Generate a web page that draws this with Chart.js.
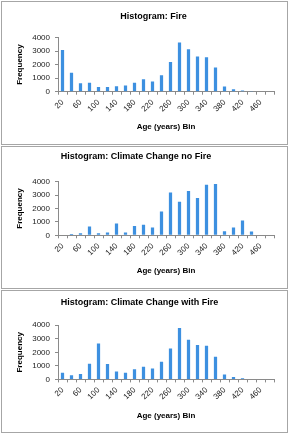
<!DOCTYPE html>
<html>
<head>
<meta charset="utf-8">
<script src="https://cdn.jsdelivr.net/npm/chart.js@4"></script>
<style>
  html, body { margin: 0; padding: 0; background: #fff; }
  body { width: 289px; height: 434px; position: relative; overflow: hidden; }
  .panel { position: absolute; box-sizing: border-box; border: 1px solid #a6a6a6; background: #fff; }
  canvas { position: absolute; }
</style>
</head>
<body>
<div class="panel" style="left:1px;top:1px;width:287px;height:144px;"></div>
<div class="panel" style="left:1px;top:146px;width:287px;height:143px;"></div>
<div class="panel" style="left:1px;top:290px;width:287px;height:143px;"></div>
<canvas id="c1" style="left:2px;top:2px;"></canvas>
<canvas id="c2" style="left:2px;top:147px;"></canvas>
<canvas id="c3" style="left:2px;top:291px;"></canvas>
<script>
// Bins (Age, years)
const bins = [20,40,60,80,100,120,140,160,180,200,220,240,260,280,300,320,340,360,380,400,420,440,460,480];

const titles = ['Histogram: Fire', 'Histogram: Climate Change no Fire', 'Histogram: Climate Change with Fire'];

const fire = [3070,1390,620,660,350,350,400,450,660,920,760,1210,2200,3640,3130,2590,2540,1790,390,180,90,15,0,0];
const ccNoFire = [0,100,150,650,150,200,880,200,700,780,580,1780,3200,2500,3300,2780,3780,3820,300,580,1100,280,0,0];
const ccWithFire = [490,300,400,1150,2650,1130,590,490,740,930,810,1300,2280,3800,2920,2530,2480,1670,370,170,80,0,0,0];

const yTicks = [0,1000,2000,3000,4000];

const seriesList = [fire, ccNoFire, ccWithFire];

// per-panel geometry (canvas coordinates)
const geo = [
  { h: 142, top: 35.5, bottom: 89.7, tx: 151.5, ty: 14.7, xtPad: 12.5 },
  { h: 141, top: 34.7, bottom: 88.3, tx: 134,   ty: 9.9,  xtPad: 12 },
  { h: 141, top: 34.2, bottom: 88.4, tx: 137.5, ty: 11.7, xtPad: 11.3 }
];

const FONT = "'Liberation Sans', Arial, sans-serif";
const AXIS = '#8a8a8a';

const panelTitle = {
  id: 'panelTitle',
  afterDraw(chart, args, opts) {
    const ctx = chart.ctx;
    ctx.save();
    ctx.font = 'bold 9px ' + FONT;
    ctx.fillStyle = '#000';
    ctx.textAlign = 'center';
    ctx.textBaseline = 'middle';
    ctx.fillText(opts.text, opts.x, opts.y);
    ctx.restore();
  }
};

seriesList.forEach((data, i) => {
  const g = geo[i];
  const canvas = document.getElementById('c' + (i + 1));
  canvas.width = 284; canvas.height = g.h;
  canvas.style.width = '284px'; canvas.style.height = g.h + 'px';
  new Chart(canvas, {
    type: 'bar',
    data: {
      labels: bins.map(String),
      datasets: [{
        data: data,
        backgroundColor: '#3d90e0',
        borderWidth: 0,
        barPercentage: 0.36,
        categoryPercentage: 1.0
      }]
    },
    options: {
      responsive: false,
      animation: false,
      devicePixelRatio: 1,
      layout: { padding: { left: 0, right: 12, top: g.top, bottom: 0 } },
      plugins: {
        legend: { display: false },
        tooltip: { enabled: false },
        title: { display: false },
        panelTitle: { text: titles[i], x: g.tx, y: g.ty }
      },
      scales: {
        x: {
          type: 'category',
          grid: { display: true, drawOnChartArea: false, drawTicks: true, tickLength: 3, color: AXIS, offset: true },
          border: { display: true, color: AXIS },
          ticks: {
            autoSkip: false, maxRotation: 45, minRotation: 45, padding: 3,
            color: '#222', font: { family: FONT, size: 8 },
            callback: function(v, idx) { return idx % 2 === 0 ? this.getLabelForValue(v) : ''; }
          },
          title: { display: true, text: 'Age (years) Bin', color: '#000', font: { family: FONT, size: 8, weight: 'bold' }, padding: { top: 0, bottom: g.xtPad } },
          afterFit(scale) { scale.height = g.h - g.bottom; }
        },
        y: {
          min: 0, max: 4000,
          afterBuildTicks(scale) { scale.ticks = yTicks.map(v => ({ value: v })); },
          grid: { display: true, drawOnChartArea: false, drawTicks: true, tickLength: 3, color: AXIS },
          border: { display: true, color: AXIS },
          ticks: { padding: 5, color: '#222', font: { family: FONT, size: 8 }, callback: (v) => String(v) },
          title: { display: true, text: 'Frequency', color: '#000', font: { family: FONT, size: 8, weight: 'bold' }, padding: { top: 12.5, bottom: 0 } },
          afterFit(scale) { scale.width = 56; }
        }
      }
    },
    plugins: [panelTitle]
  });
});
</script>
</body>
</html>
